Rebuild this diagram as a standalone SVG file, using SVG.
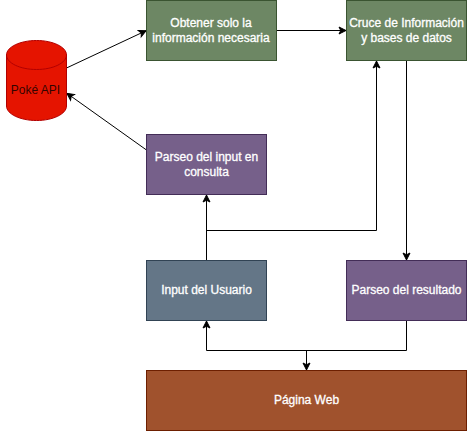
<svg xmlns="http://www.w3.org/2000/svg" width="467" height="431" viewBox="0 0 467 431">
<style>
text{font-family:"Liberation Sans",Arial,sans-serif;font-size:12px;text-anchor:middle;fill:#fff;stroke:#fff;stroke-width:.3}
.g{fill:#6d8764;stroke:#3a5431}
.p{fill:#76608a;stroke:#432d57}
.b{fill:#647687;stroke:#314354}
.o{fill:#a0522d;stroke:#6d1f00}
.c{fill:none;stroke:#000;stroke-width:1;marker-end:url(#a)}
</style>
<defs><marker id="a" markerUnits="userSpaceOnUse" markerWidth="10" markerHeight="10" refX="9" refY="5" orient="auto"><path d="M1.500 1.500L8.500 5L1.500 8.500L3.250 5Z" fill="#000" stroke="#000"/></marker></defs>
<rect width="467" height="431" fill="#fff"/>
<g id="connectors">
<path class="c" d="M66.500 68L146.500 30.500"/>
<path class="c" d="M146.500 150L66.500 93"/>
<path class="c" d="M276.500 30.500H346.500"/>
<path class="c" d="M206.500 260.500V194.500"/>
<path class="c" d="M206.500 230.500H376.500V60.500"/>
<path class="c" d="M406.500 60.500V260.500"/>
<path class="c" d="M406.500 320.500V350.500H206.500V320.500"/>
<path class="c" d="M306.500 350.500V370.500"/>
</g>
<g id="poke-api">
<path d="M6.500 55C6.500 47 20 40.500 36.500 40.500S66.500 47 66.500 55V106C66.500 114 53 120.500 36.500 120.500S6.500 114 6.500 106Z" fill="#e51400" stroke="#b20000"/>
<path d="M6.500 55C6.500 63 20 69.500 36.500 69.500S66.500 63 66.500 55" fill="none" stroke="#b20000"/>
<text x="35.500" y="94" style="fill:#000;fill-opacity:.8;stroke:none">Poké API</text>
</g>
<g id="obtener"><rect class="g" x="146.500" y="0.500" width="130" height="60"/><text x="211" y="27">Obtener solo la</text><text x="211" y="42">información necesaria</text></g>
<g id="cruce"><rect class="g" x="346.500" y="0.500" width="120" height="60"/><text x="406.500" y="27">Cruce de Información</text><text x="406.500" y="42">y bases de datos</text></g>
<g id="parseo-input"><rect class="p" x="146.500" y="134.500" width="120" height="60"/><text x="206.500" y="161">Parseo del input en</text><text x="206.500" y="176">consulta</text></g>
<g id="input-usuario"><rect class="b" x="146.500" y="260.500" width="120" height="60"/><text x="206.500" y="294">Input del Usuario</text></g>
<g id="parseo-resultado"><rect class="p" x="346.500" y="260.500" width="120" height="60"/><text x="406.500" y="294">Parseo del resultado</text></g>
<g id="pagina-web"><rect class="o" x="146.500" y="370.500" width="320" height="60"/><text x="306.500" y="404">Página Web</text></g>
</svg>
